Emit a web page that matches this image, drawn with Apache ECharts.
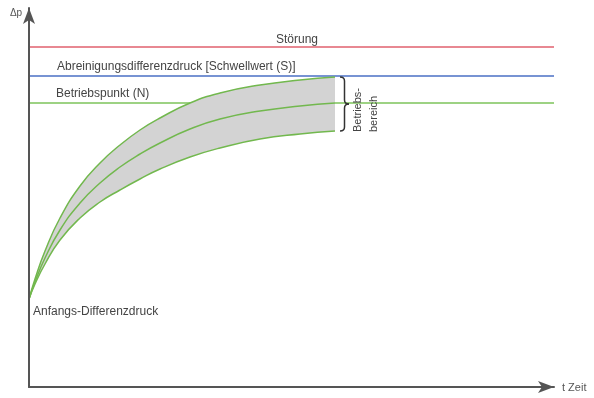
<!DOCTYPE html>
<html>
<head>
<meta charset="utf-8">
<script src="https://cdn.jsdelivr.net/npm/echarts@6/dist/echarts.min.js"></script>
<style>
html,body{margin:0;padding:0;background:#fff;}
#c{width:594px;height:398px;}
</style>
</head>
<body>
<div id="c"></div>
<script>
// Time axis samples (arbitrary units)
const timeX = [0, 6, 16, 31, 51, 71, 91, 111, 131, 161, 191, 231, 271, 306];
// Differential pressure curves (arbitrary units)
const upperCurve  = [88, 108, 136, 169, 201, 224, 242, 257, 269, 284, 294, 302, 307, 310];
const middleCurve = [88, 105, 129, 157, 184, 204, 220, 233, 244, 258, 268, 276, 281, 284];
const lowerCurve  = [88, 103, 123, 147, 169, 185, 197, 208, 218, 230, 239, 248, 253, 256];
// Horizontal reference levels
const levelNames  = ['Störung', 'Abreinigungsdifferenzdruck [Schwellwert (S)]', 'Betriebspunkt (N)'];
const levelValues = [340, 311, 284];
const levelColors = ['#e0606e', '#4a6fc4', '#7cc35a'];
const lineStart = 1, lineEnd = 525;
const xMax = 525, yMax = 379;
const startLabel = 'Anfangs-Differenzdruck';
const yAxisName = 'Δp';
const xAxisName = 't Zeit';
const rangeLabel = ['Betriebs-', 'bereich'];

const chart = echarts.init(document.getElementById('c'), null, {renderer: 'canvas'});
const green = '#72b84e';
const pts = a => a.map((v, i) => [timeX[i], v]);
const SM = 0.5;

const series = [];
levelValues.forEach((v, i) => {
  series.push({
    type: 'line', data: [[lineStart, v], [lineEnd, v]], symbol: 'none',
    lineStyle: {color: levelColors[i], width: 1.5}, silent: true, z: 1
  });
});
// gray band: fill under upper curve, then white under lower curve
series.push({type: 'line', data: pts(upperCurve), symbol: 'none', smooth: SM,
  lineStyle: {width: 0, opacity: 0}, areaStyle: {color: '#d3d3d3', opacity: 1, origin: 'start'}, z: 2});
series.push({type: 'line', data: pts(lowerCurve), symbol: 'none', smooth: SM,
  lineStyle: {width: 0, opacity: 0}, areaStyle: {color: '#ffffff', opacity: 1, origin: 'start'}, z: 3});
[upperCurve, middleCurve, lowerCurve].forEach(c => {
  series.push({type: 'line', data: pts(c), symbol: 'none', smooth: SM,
    lineStyle: {color: green, width: 1.5}, z: 4});
});

chart.setOption({
  animation: false,
  grid: {left: 29, top: 8, width: 525, height: 379},
  xAxis: {type: 'value', min: 0, max: xMax, z: 10,
    axisLine: {show: true, lineStyle: {color: '#555', width: 2}, symbol: ['none', 'arrow'], symbolSize: [9, 16]},
    axisTick: {show: false}, axisLabel: {show: false}, splitLine: {show: false}},
  yAxis: {type: 'value', min: 0, max: yMax, z: 10,
    axisLine: {show: true, lineStyle: {color: '#555', width: 2}, symbol: ['none', 'arrow'], symbolSize: [9, 16]},
    axisTick: {show: false}, axisLabel: {show: false}, splitLine: {show: false}},
  series: series
});

const P = (x, y) => chart.convertToPixel({gridIndex: 0}, [x, y]);
const font = '12px "Liberation Sans", Arial, sans-serif';
const txt = (text, p, align) => ({
  type: 'text', x: p[0], y: p[1], z: 20,
  style: {text: text, font: font, fill: '#444', align: align || 'left', verticalAlign: 'middle'}
});

const g = [];
g.push(txt(levelNames[0], P(268, levelValues[0] + 7), 'center'));
g.push(txt(levelNames[1], P(28, levelValues[1] + 9), 'left'));
g.push(txt(levelNames[2], P(27, levelValues[2] + 9), 'left'));
g.push(txt(startLabel, P(4, 75), 'left'));
const pO = P(0, 0), pTop = P(0, yMax), pRight = P(xMax, 0);
g.push({type: 'text', x: pTop[0] - 13, y: pTop[1] + 5, z: 20,
  style: {text: yAxisName, font: '10px "Liberation Sans", Arial, sans-serif', fill: '#555', align: 'center', verticalAlign: 'middle'}});
g.push({type: 'text', x: pRight[0] + 8, y: pO[1] + 1, z: 20,
  style: {text: xAxisName, font: '11px "Liberation Sans", Arial, sans-serif', fill: '#555', align: 'left', verticalAlign: 'middle'}});

// brace
const bt = P(311, upperCurve[upperCurve.length - 1]);
const bb = P(311, lowerCurve[lowerCurve.length - 1]);
const bx = bt[0], by0 = bt[1], by1 = bb[1], bm = (by0 + by1) / 2, w = 9, h = w / 2;
const bs = {stroke: '#333', lineWidth: 1.5, fill: null};
const bez = (x1, y1, cx, cy, x2, y2) => ({type: 'bezierCurve', z: 20,
  shape: {x1: x1, y1: y1, cpx1: cx, cpy1: cy, x2: x2, y2: y2}, style: bs});
const seg = (x1, y1, x2, y2) => ({type: 'line', z: 20, shape: {x1: x1, y1: y1, x2: x2, y2: y2}, style: bs});
g.push(bez(bx, by0, bx + h, by0, bx + h, by0 + 4));
g.push(seg(bx + h, by0 + 4, bx + h, bm - 4));
g.push(bez(bx + h, bm - 4, bx + h, bm, bx + w, bm));
g.push(bez(bx + w, bm, bx + h, bm, bx + h, bm + 4));
g.push(seg(bx + h, bm + 4, bx + h, by1 - 4));
g.push(bez(bx + h, by1 - 4, bx + h, by1, bx, by1));
g.push({type: 'text', x: bx + 18, y: by1 + 1, rotation: Math.PI / 2, z: 20,
  style: {text: rangeLabel[0], font: '11px "Liberation Sans", Arial, sans-serif', fill: '#444', align: 'left', verticalAlign: 'middle'}});
g.push({type: 'text', x: bx + 34, y: by1 + 1, rotation: Math.PI / 2, z: 20,
  style: {text: rangeLabel[1], font: '11px "Liberation Sans", Arial, sans-serif', fill: '#444', align: 'left', verticalAlign: 'middle'}});

chart.setOption({graphic: {elements: g}});
</script>
</body>
</html>
